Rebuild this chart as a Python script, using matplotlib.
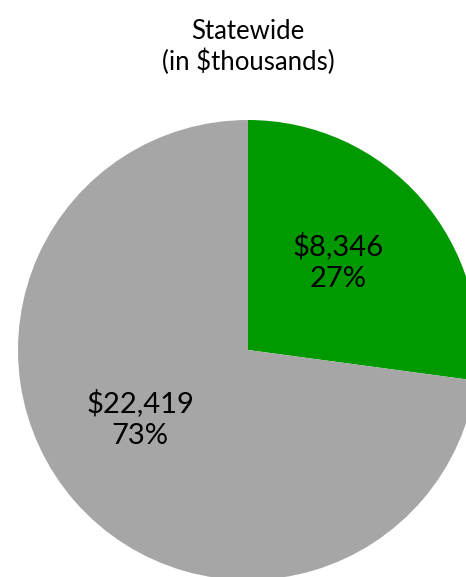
import matplotlib
matplotlib.use("Agg")
import matplotlib.pyplot as plt

labels = ["Green", "Gray"]
values = [8346, 22419]
colors = ["#009900", "#A6A6A6"]
title = "Statewide\n(in \\$thousands)"

plt.rcParams['font.family'] = ['Lato', 'DejaVu Sans']

W, H = 466, 577
fig = plt.figure(figsize=(W / 100, H / 100), dpi=100)
cx, cy, r = 248, 350, 230
ax = fig.add_axes([(cx - r) / W, (H - cy - r) / H, 2 * r / W, 2 * r / H])

total = sum(values)
def fmt(pct):
    v = pct * total / 100
    return "\\${:,.0f}\n{:.0f}%".format(v, pct)

wedges, texts, autotexts = ax.pie(values, colors=colors, startangle=90, counterclock=False,
                                  radius=1, autopct=fmt, pctdistance=0.56,
                                  textprops=dict(fontsize=21, color="black", linespacing=1.3))
ax.set_xlim(-1, 1)
ax.set_ylim(-1, 1)
ax.set_aspect('equal')
ax.axis('off')
for w in wedges:
    w.set_clip_on(False)
autotexts[0].set_position(((338 - cx) / r, (cy - 262) / r))
autotexts[1].set_position(((140 - cx) / r, (cy - 419) / r))
for t in autotexts:
    t.set_ha('center'); t.set_va('center')

fig.text(248 / W, 1 - 47 / H, title, ha='center', va='center', fontsize=18.5, linespacing=1.25)

fig.savefig("out.png", dpi=100)
